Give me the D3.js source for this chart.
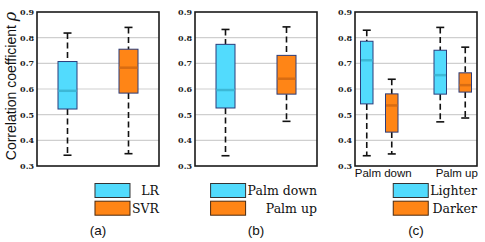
<!DOCTYPE html>
<html>
<head>
<meta charset="utf-8">
<script src="https://cdn.jsdelivr.net/npm/d3@7"></script>
<style>
  body { margin: 0; background: #fff; }
  svg { display: block; }
</style>
</head>
<body>
<div id="chart"></div>
<script>
/* ---------- data ---------- */
// each stat array: [lower whisker, Q1, median, Q3, upper whisker]
const yTicks = [0.3, 0.4, 0.5, 0.6, 0.7, 0.8, 0.9];

const panelA_cats = ["LR", "SVR"];
const lrStats = [0.342, 0.522, 0.593, 0.707, 0.818];
const svrStats = [0.348, 0.584, 0.683, 0.755, 0.840];

const panelB_cats = ["Palm down", "Palm up"];
const palmDownStats = [0.340, 0.526, 0.596, 0.774, 0.832];
const palmUpStats = [0.474, 0.580, 0.640, 0.731, 0.842];

const panelC_groups = ["Palm down", "Palm up"];
const panelC_cats = ["Lighter", "Darker"];
const lighterStats = [
  [0.340, 0.542, 0.712, 0.786, 0.829],   // palm down
  [0.472, 0.580, 0.654, 0.751, 0.840]    // palm up
];
const darkerStats = [
  [0.347, 0.432, 0.536, 0.581, 0.638],
  [0.487, 0.588, 0.615, 0.663, 0.763]
];

const captions = ["(a)", "(b)", "(c)"];

/* ---------- layout ---------- */
const W = 485, H = 242;
const plotTop = 12, plotBottom = 166;
const frames = [
  { x0: 37, x1: 159 },
  { x0: 195, x1: 317 },
  { x0: 355, x1: 477 }
];
const cyan = "#52dbfd", orange = "#ff8516";
const cyanMed = "#3cb8d6", orangeMed = "#d86c12";
const boxStroke = "#2b3c7a";

const svg = d3.select("#chart").append("svg")
  .attr("width", W).attr("height", H);

const y = d3.scaleLinear().domain([0.3, 0.9]).range([plotBottom, plotTop]);

function drawFrame(f) {
  const g = svg.append("g");
  // grid
  g.selectAll("line.grid")
    .data(yTicks.slice(1, -1))
    .join("line")
    .attr("x1", f.x0).attr("x2", f.x1)
    .attr("y1", d => y(d)).attr("y2", d => y(d))
    .attr("stroke", "#cfcfcf").attr("stroke-width", 1.2);
  // axis labels
  const ax = g.append("g")
    .attr("transform", `translate(${f.x0},0)`)
    .call(d3.axisLeft(y).tickValues(yTicks).tickSize(0).tickPadding(3).tickFormat(d3.format(".1f")));
  ax.select(".domain").remove();
  ax.selectAll("text")
    .attr("font-family", "DejaVu Serif")
    .attr("font-weight", "bold")
    .attr("font-size", 8)
    .attr("fill", "#222");
  return g;
}

function drawBox(g, cx, bw, s, fill, med) {
  const capW = 8;
  g.append("line")
    .attr("x1", cx).attr("x2", cx).attr("y1", y(s[4])).attr("y2", y(s[3]))
    .attr("stroke", "#111").attr("stroke-width", 1.6).attr("stroke-dasharray", "6,3.5");
  g.append("line")
    .attr("x1", cx).attr("x2", cx).attr("y1", y(s[1])).attr("y2", y(s[0]))
    .attr("stroke", "#111").attr("stroke-width", 1.6).attr("stroke-dasharray", "6,3.5");
  [s[0], s[4]].forEach(v => {
    g.append("line")
      .attr("x1", cx - capW / 2).attr("x2", cx + capW / 2)
      .attr("y1", y(v)).attr("y2", y(v))
      .attr("stroke", "#111").attr("stroke-width", 1.6);
  });
  g.append("rect")
    .attr("x", cx - bw / 2).attr("width", bw)
    .attr("y", y(s[3])).attr("height", y(s[1]) - y(s[3]))
    .attr("fill", fill).attr("stroke", boxStroke).attr("stroke-width", 1);
  g.append("line")
    .attr("x1", cx - bw / 2 + 0.5).attr("x2", cx + bw / 2 - 0.5)
    .attr("y1", y(s[2])).attr("y2", y(s[2]))
    .attr("stroke", med).attr("stroke-width", 2.5);
}

function drawBorder(f) {
  svg.append("rect")
    .attr("x", f.x0).attr("y", plotTop)
    .attr("width", f.x1 - f.x0).attr("height", plotBottom - plotTop)
    .attr("fill", "none").attr("stroke", "#1a1a1a").attr("stroke-width", 1.6);
}

function measure(t) {
  const tmp = svg.append("text").attr("font-family", "DejaVu Serif").attr("font-size", 12.5).text(t);
  const w = tmp.node().getComputedTextLength();
  tmp.remove();
  return w;
}

function drawLegend(f, labels) {
  const sw = 35, sh = 14;
  const rows = [183.5, 201.2];
  const colors = [[cyan, "#333"], [orange, "#4a2a10"]];
  const tw = d3.max(labels, l => measure(l));
  const sx = f.x1 - tw - sw - 2;
  labels.forEach((l, i) => {
    svg.append("rect")
      .attr("x", sx).attr("y", rows[i]).attr("width", sw).attr("height", sh)
      .attr("fill", colors[i][0]).attr("stroke", colors[i][1]).attr("stroke-width", 1);
    svg.append("text")
      .attr("x", f.x1).attr("y", rows[i] + 11.5)
      .attr("text-anchor", "end")
      .attr("font-family", "DejaVu Serif")
      .attr("font-size", 12.5)
      .attr("fill", "#111")
      .text(l);
  });
}

/* ---------- panel (a) ---------- */
{
  const f = frames[0];
  const g = drawFrame(f);
  const x = d3.scalePoint().domain(panelA_cats).range([f.x0, f.x1]).padding(0.5);
  drawBox(g, x("LR"), 19, lrStats, cyan, cyanMed);
  drawBox(g, x("SVR"), 19, svrStats, orange, orangeMed);
  drawBorder(f);
  drawLegend(f, panelA_cats);
}

/* ---------- panel (b) ---------- */
{
  const f = frames[1];
  const g = drawFrame(f);
  const x = d3.scalePoint().domain(panelB_cats).range([f.x0, f.x1]).padding(0.5);
  drawBox(g, x("Palm down"), 19, palmDownStats, cyan, cyanMed);
  drawBox(g, x("Palm up"), 19, palmUpStats, orange, orangeMed);
  drawBorder(f);
  drawLegend(f, panelB_cats);
}

/* ---------- panel (c) ---------- */
{
  const f = frames[2];
  const g = drawFrame(f);
  const xg = d3.scalePoint().domain(panelC_groups).range([f.x0, f.x1]).padding(0.33);
  const xs = d3.scalePoint().domain(panelC_cats).range([-12.5, 12.5]);
  panelC_groups.forEach((grp, i) => {
    drawBox(g, xg(grp) + xs("Lighter"), 12.5, lighterStats[i], cyan, cyanMed);
    drawBox(g, xg(grp) + xs("Darker"), 12.5, darkerStats[i], orange, orangeMed);
    svg.append("text")
      .attr("x", xg(grp) + 4).attr("y", 176.5)
      .attr("text-anchor", "middle")
      .attr("font-family", "Liberation Sans, Arial, sans-serif")
      .attr("font-size", 11.5)
      .attr("fill", "#111")
      .text(grp);
  });
  drawBorder(f);
  drawLegend(f, panelC_cats);
}

/* ---------- y title ---------- */
const yt = svg.append("text")
  .attr("transform", `translate(16,${(plotTop + plotBottom) / 2 - 3}) rotate(-90)`)
  .attr("text-anchor", "middle")
  .attr("font-family", "Liberation Sans, Arial, sans-serif")
  .attr("font-size", 14)
  .attr("fill", "#111");
yt.append("tspan").text("Correlation coefficient ");
yt.append("tspan").attr("font-family", "DejaVu Serif").attr("font-style", "italic").attr("font-size", 16).text("ρ");

/* ---------- captions ---------- */
frames.forEach((f, i) => {
  svg.append("text")
    .attr("x", (f.x0 + f.x1) / 2).attr("y", 235)
    .attr("text-anchor", "middle")
    .attr("font-family", "Liberation Sans, Arial, sans-serif")
    .attr("font-size", 13.5)
    .attr("fill", "#111")
    .text(captions[i]);
});
</script>
</body>
</html>
